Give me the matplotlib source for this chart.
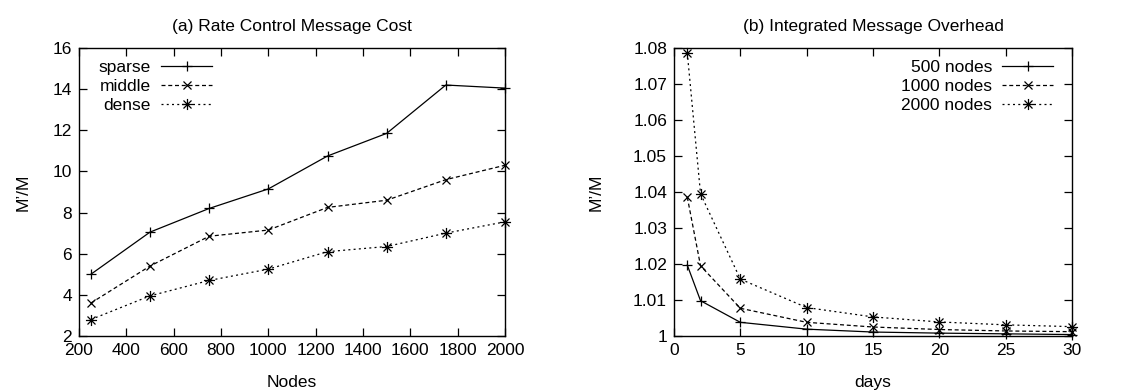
import matplotlib
matplotlib.use("Agg")
import matplotlib.pyplot as plt
from matplotlib.path import Path

plt.rcParams['font.family'] = ['Liberation Sans', 'DejaVu Sans']
plt.rcParams['font.size'] = 12

# (a) rate control message cost
nodes = [250, 500, 750, 1000, 1250, 1500, 1750, 2000]
sparse = [5.0, 7.05, 8.2, 9.15, 10.75, 11.85, 14.2, 14.05]
middle = [3.6, 5.4, 6.85, 7.15, 8.25, 8.6, 9.6, 10.3]
dense = [2.8, 3.95, 4.7, 5.25, 6.1, 6.35, 7.0, 7.55]

# (b) integrated message overhead
days = [1, 2, 5, 10, 15, 20, 25, 30]
n500 = [1.0197, 1.0098, 1.0038, 1.0019, 1.0011, 1.0008, 1.0006, 1.0004]
n1000 = [1.0386, 1.0195, 1.0077, 1.0038, 1.0025, 1.0018, 1.0014, 1.0012]
n2000 = [1.0787, 1.0395, 1.0158, 1.0079, 1.0053, 1.0039, 1.0031, 1.0026]

# gnuplot style "+ and x" star marker
star = Path([(-1, 0), (1, 0), (0, -1), (0, 1),
             (-0.72, -0.72), (0.72, 0.72), (-0.72, 0.72), (0.72, -0.72)],
            [Path.MOVETO, Path.LINETO] * 4)

styles = [
    dict(ls='-', marker='+', ms=7),
    dict(ls=(0, (3.2, 2.2)), marker='x', ms=6),
    dict(ls=(0, (1.6, 2.6)), marker=star, ms=8),
]

fig = plt.figure(figsize=(11.3, 3.91), dpi=100)
ax1 = fig.add_axes([79 / 1130, 55 / 391, 426 / 1130, 288 / 391])
ax2 = fig.add_axes([674 / 1130, 55 / 391, 398 / 1130, 288 / 391])


def draw(ax, x, series, labels):
    for ys, lab, st in zip(series, labels, styles):
        ax.plot(x, ys, color='black', lw=0.9, mew=0.9, label=lab,
                clip_on=False, **st)
    for s in ax.spines.values():
        s.set_linewidth(1.0)
    ax.tick_params(direction='in', length=6, width=0.9, top=True, right=True,
                   pad=5, labelsize=12.5)


draw(ax1, nodes, [sparse, middle, dense], ['sparse', 'middle', 'dense'])
ax1.set_xlim(200, 2000)
ax1.set_ylim(2, 16)
ax1.set_xticks(range(200, 2001, 200))
ax1.set_yticks(range(2, 17, 2))
ax1.set_title('(a) Rate Control Message Cost', fontsize=12.5, pad=12)
ax1.set_xlabel('Nodes', fontsize=12.5, labelpad=12)
ax1.set_ylabel('M\u2019/M', fontsize=12.5, labelpad=16)
ax1.legend(loc='upper left', bbox_to_anchor=(0.018, 1.0), frameon=False,
           markerfirst=False, handlelength=2.9, handletextpad=0.6,
           labelspacing=0.22, borderaxespad=0.3, fontsize=12.5)

draw(ax2, days, [n500, n1000, n2000], ['500 nodes', '1000 nodes', '2000 nodes'])
ax2.set_xlim(0, 30)
ax2.set_ylim(1.0, 1.08)
ax2.set_xticks(range(0, 31, 5))
yt = [1.0, 1.01, 1.02, 1.03, 1.04, 1.05, 1.06, 1.07, 1.08]
ax2.set_yticks(yt)
ax2.set_yticklabels(['1', '1.01', '1.02', '1.03', '1.04', '1.05', '1.06', '1.07', '1.08'])
ax2.set_title('(b) Integrated Message Overhead', fontsize=12.5, pad=12)
ax2.set_xlabel('days', fontsize=12.5, labelpad=12)
ax2.set_ylabel('M\u2019/M', fontsize=12.5, labelpad=21)
ax2.legend(loc='upper right', bbox_to_anchor=(0.982, 1.0), frameon=False,
           markerfirst=False, handlelength=2.9, handletextpad=0.6,
           labelspacing=0.22, borderaxespad=0.3, fontsize=12.5)

fig.savefig('out.png', dpi=100)
